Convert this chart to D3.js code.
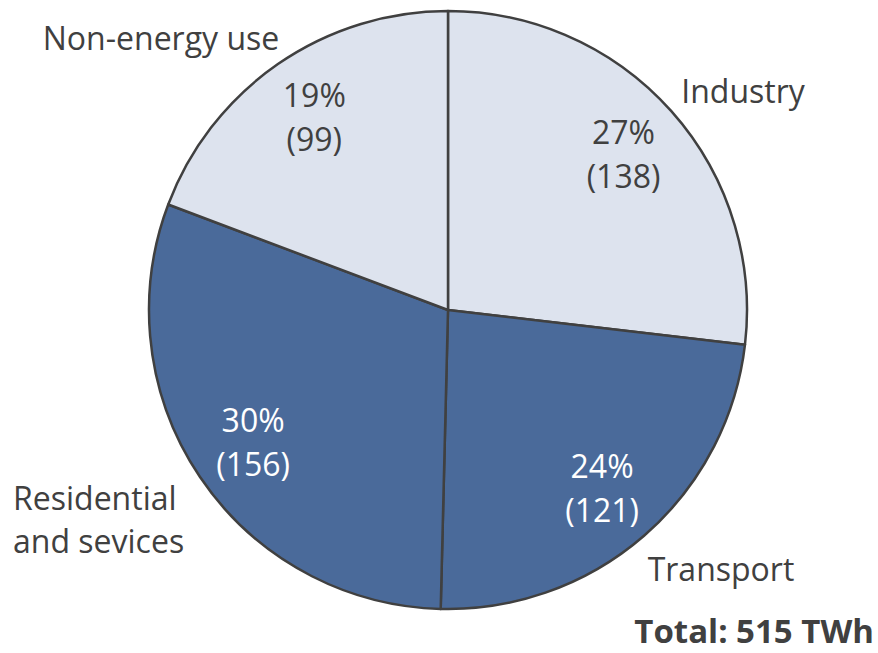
<!DOCTYPE html>
<html>
<head>
<meta charset="utf-8">
<script src="https://cdn.jsdelivr.net/npm/d3@7"></script>
<style>
  html, body { margin: 0; padding: 0; background: #ffffff; }
  svg { display: block; }
  text { font-family: "Open Sans", Lato, sans-serif; }
</style>
</head>
<body>
<svg id="chart" width="878" height="653"></svg>
<script>
// Final energy consumption by sector (TWh)
const sectors = ["Industry", "Transport", "Residential\nand sevices", "Non-energy use"];
const values = [138, 121, 156, 99];
const shares = ["27%", "24%", "30%", "19%"];
const fills = ["#dde3ee", "#4a6a9a", "#4a6a9a", "#dde3ee"];
const inkColors = ["#404040", "#ffffff", "#ffffff", "#404040"];
const totalLabel = "Total: 515 TWh";

const width = 878, height = 653;
const cx = 448, cy = 310, radius = 299;
const fontSize = 32;

const svg = d3.select("#chart");
const g = svg.append("g").attr("transform", `translate(${cx},${cy})`);

const pie = d3.pie().sort(null).value(d => d);
const arcs = pie(values);
const arc = d3.arc().innerRadius(0).outerRadius(radius);
const labelArc = d3.arc().innerRadius(235).outerRadius(235);

g.selectAll("path.slice")
  .data(arcs)
  .join("path")
  .attr("class", "slice")
  .attr("d", arc)
  .attr("fill", (d, i) => fills[i])
  .attr("stroke", "#404040")
  .attr("stroke-width", 2.5)
  .attr("stroke-linejoin", "round");

// Share and value inside each slice
const inner = g.selectAll("g.inner")
  .data(arcs)
  .join("g")
  .attr("class", "inner")
  .attr("transform", d => `translate(${labelArc.centroid(d)})`);

inner.append("text")
  .attr("text-anchor", "middle")
  .attr("y", -22)
  .attr("dominant-baseline", "central")
  .attr("font-size", fontSize)
  .attr("fill", (d, i) => inkColors[i])
  .text((d, i) => shares[i]);

inner.append("text")
  .attr("text-anchor", "middle")
  .attr("y", 22)
  .attr("dominant-baseline", "central")
  .attr("font-size", fontSize)
  .attr("fill", (d, i) => inkColors[i])
  .text(d => `(${d.data})`);

// Sector names outside the pie
const outer = [
  { x: 743, y: 90, anchor: "middle" },
  { x: 721, y: 568, anchor: "middle" },
  { x: 13, y: 497, anchor: "start" },
  { x: 161, y: 37, anchor: "middle" }
];

sectors.forEach((name, i) => {
  const t = svg.append("text")
    .attr("x", outer[i].x)
    .attr("y", outer[i].y)
    .attr("text-anchor", outer[i].anchor)
    .attr("dominant-baseline", "central")
    .attr("font-size", fontSize)
    .attr("fill", "#404040");
  name.split("\n").forEach((line, j) => {
    t.append("tspan")
      .attr("x", outer[i].x)
      .attr("dy", j === 0 ? 0 : 43)
      .text(line);
  });
});

svg.append("text")
  .attr("x", 874)
  .attr("y", 630)
  .attr("text-anchor", "end")
  .attr("dominant-baseline", "central")
  .attr("font-size", 33)
  .attr("font-weight", "bold")
  .attr("fill", "#404040")
  .text(totalLabel);
</script>
</body>
</html>
